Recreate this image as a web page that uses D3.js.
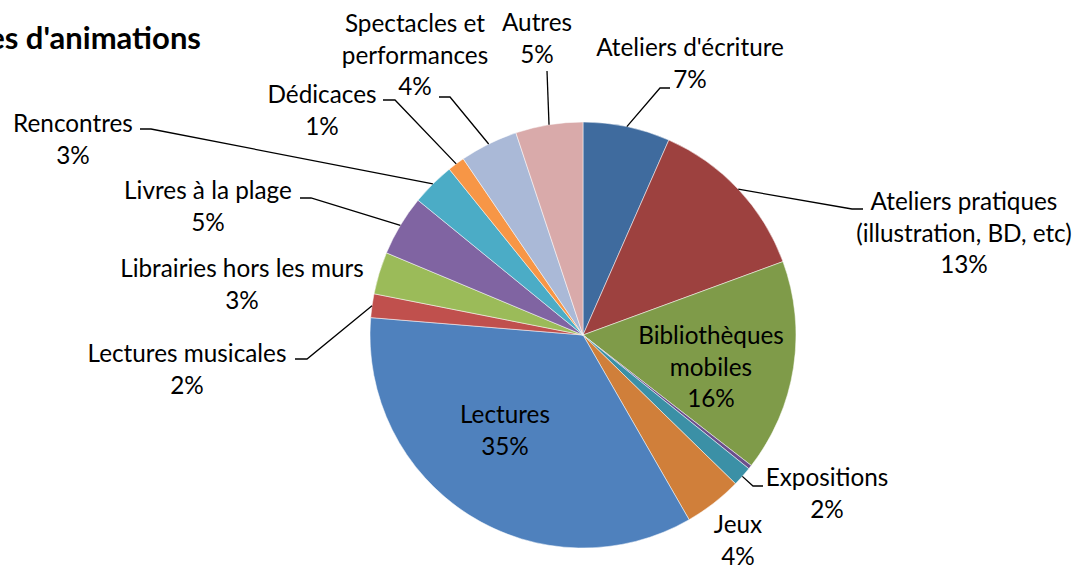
<!DOCTYPE html>
<html>
<head>
<meta charset="utf-8">
<script src="https://cdn.jsdelivr.net/npm/d3@7"></script>
<style>
  html, body { margin: 0; padding: 0; background: #fff; }
  svg { display: block; }
  text { font-family: Lato, "Open Sans", sans-serif; fill: #000; }
</style>
</head>
<body>
<svg id="chart" width="1078" height="568"></svg>
<script>
// ---- data ----
const title = "Types d'animations";
const categories = [
  "Ateliers d'écriture",
  "Ateliers pratiques (illustration, BD, etc)",
  "Bibliothèques mobiles",
  "",
  "Expositions",
  "Jeux",
  "Lectures",
  "Lectures musicales",
  "Librairies hors les murs",
  "Livres à la plage",
  "Rencontres",
  "Dédicaces",
  "Spectacles et performances",
  "Autres"
];
const values = [6.6, 12.8, 16.1, 0.3, 1.5, 4.4, 34.6, 1.8, 3.2, 4.6, 3.3, 1.3, 4.4, 5.1];
const colors = ["#3F6B9E", "#9D413F", "#7F9B49", "#6B4F8C", "#3B90A6", "#D07F3A",
                "#4F81BD", "#C0504D", "#9BBB59", "#8064A2", "#4BACC6", "#F79646",
                "#AAB9D7", "#D9AAAA"];
// label line breaks (text only)
const labelLines = [
  ["Ateliers d'écriture"],
  ["Ateliers pratiques", "(illustration, BD, etc)"],
  ["Bibliothèques", "mobiles"],
  [],
  ["Expositions"],
  ["Jeux"],
  ["Lectures"],
  ["Lectures musicales"],
  ["Librairies hors les murs"],
  ["Livres à la plage"],
  ["Rencontres"],
  ["Dédicaces"],
  ["Spectacles et", "performances"],
  ["Autres"]
];

// ---- layout (positions, not data) ----
const cx = 583, cy = 335, R = 213;
const lineH = 31.5;
// x center, first baseline, optional leader [elbowX, elbowY, endX, endY]
const labelLayout = [
  {x: 690, y: 56, leader: [660, 88, 670, 88]},
  {x: 964, y: 210, leader: [852, 209, 863, 209]},
  {x: 711, y: 344},
  null,
  {x: 827, y: 486, leader: [753, 486, 763, 486]},
  {x: 738, y: 533},
  {x: 505, y: 423},
  {x: 187, y: 362, leader: [307, 359, 295, 359]},
  {x: 242, y: 277},
  {x: 208, y: 199, leader: [311, 198, 300, 198]},
  {x: 73, y: 132, leader: [151, 129, 140, 129]},
  {x: 322, y: 103, leader: [395, 100, 383, 100]},
  {x: 415, y: 32, leader: [450, 97, 439, 97]},
  {x: 537, y: 31, leader: [547, 71, 547, 71]}
];

const svg = d3.select("#chart");
const total = d3.sum(values);
const items = categories.map((c, i) => ({name: c, value: values[i], i}));

const pie = d3.pie().sort(null).value(d => d.value).startAngle(0).endAngle(2 * Math.PI);
const arcs = pie(items);
const arc = d3.arc().innerRadius(0).outerRadius(R);

const g = svg.append("g").attr("transform", `translate(${cx},${cy})`);
g.selectAll("path.slice")
  .data(arcs)
  .join("path")
  .attr("class", "slice")
  .attr("d", arc)
  .attr("fill", d => colors[d.data.i])
  .attr("stroke", "#ffffff")
  .attr("stroke-width", 0.5);

// leader lines
const pctFmt = v => Math.round(v / total * 100) + "%";
arcs.forEach(a => {
  const L = labelLayout[a.data.i];
  if (!L || !L.leader) return;
  const mid = (a.startAngle + a.endAngle) / 2;
  const sx = cx + R * Math.sin(mid), sy = cy - R * Math.cos(mid);
  const [ex, ey, fx, fy] = L.leader;
  svg.append("polyline")
    .attr("points", `${sx},${sy} ${ex},${ey} ${fx},${fy}`)
    .attr("fill", "none")
    .attr("stroke", "#000")
    .attr("stroke-width", 1.3);
});

// labels
const fs = 24.3;
arcs.forEach(a => {
  const L = labelLayout[a.data.i];
  if (!L) return;
  const lines = labelLines[a.data.i].concat([pctFmt(a.data.value)]);
  const t = svg.append("text")
    .attr("text-anchor", "middle")
    .attr("font-size", fs);
  lines.forEach((s, k) => {
    t.append("tspan").attr("x", L.x).attr("y", L.y + k * lineH).text(s);
  });
});

// title (clipped at left like the reference)
svg.append("text")
  .attr("x", 201).attr("y", 49)
  .attr("text-anchor", "end")
  .attr("font-size", 31)
  .attr("font-weight", "bold")
  .text(title);
</script>
</body>
</html>
